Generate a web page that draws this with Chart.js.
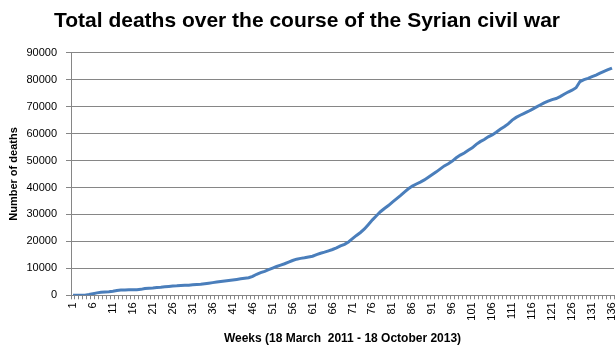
<!DOCTYPE html>
<html>
<head>
<meta charset="utf-8">
<script src="https://cdn.jsdelivr.net/npm/chart.js@4/dist/chart.umd.min.js"></script>
<style>
  html, body { margin: 0; padding: 0; background: #fff; }
  #wrap { width: 615px; height: 358px; position: relative; }
</style>
</head>
<body>
<div id="wrap"><canvas id="deaths-chart"></canvas></div>
<script>
// weeks 1..136 (18 March 2011 - 18 October 2013)
var weeks = [];
for (var w = 1; w <= 136; w++) weeks.push(String(w));

// cumulative deaths per week
var deaths = [
  0, 0, 0, 50, 300, 600, 900, 1100, 1200, 1300,
  1500, 1800, 2000, 2000, 2050, 2050, 2100, 2200, 2500, 2650,
  2750, 2900, 3000, 3150, 3300, 3450, 3500, 3600, 3700, 3750,
  3900, 4000, 4100, 4300, 4500, 4700, 4900, 5100, 5300, 5500,
  5700, 5900, 6100, 6300, 6500, 7000, 7800, 8400, 8900, 9500,
  10100, 10700, 11200, 11700, 12300, 12900, 13400, 13700, 13900, 14200,
  14500, 15100, 15600, 16000, 16500, 17000, 17600, 18300, 18900, 19800,
  21000, 22200, 23300, 24600, 26300, 28000, 29500, 31000, 32200, 33300,
  34600, 35800, 37000, 38300, 39500, 40500, 41300, 42000, 42800, 43800,
  44800, 45800, 46900, 48000, 48800, 49800, 51000, 52000, 52800, 53800,
  54700, 56000, 57000, 57800, 58800, 59500, 60500, 61600, 62500, 63600,
  65000, 66000, 66800, 67500, 68200, 69000, 69800, 70600, 71400, 72000,
  72600, 73000, 73700, 74600, 75400, 76100, 77000, 79300, 80000, 80500,
  81100, 81700, 82400, 83100, 83700, 84300
];

var yTicks = [0, 10000, 20000, 30000, 40000, 50000, 60000, 70000, 80000, 90000];

var chartTitle = 'Total deaths over the course of the Syrian civil war';
var xTitle = 'Weeks (18 March  2011 - 18 October 2013)';
var yTitle = 'Number of deaths';

var gridGrey = '#868686';
var FONT = '"Liberation Sans", Arial, sans-serif';

Chart.defaults.font.family = FONT;
Chart.defaults.color = '#000';

new Chart(document.getElementById('deaths-chart').getContext('2d'), {
  type: 'line',
  data: {
    labels: weeks,
    datasets: [{
      label: 'Deaths',
      data: deaths,
      borderColor: '#4a7ebb',
      borderWidth: 3,
      pointRadius: 0,
      tension: 0,
      fill: false
    }]
  },
  options: {
    responsive: true,
    maintainAspectRatio: false,
    animation: false,
    layout: { padding: { left: 0, right: 1, top: 0, bottom: 0 } },
    plugins: {
      legend: { display: false },
      tooltip: { enabled: false },
      title: {
        display: true,
        text: chartTitle,
        color: '#000',
        font: { size: 21, weight: 'bold', family: FONT },
        padding: { top: 9, bottom: 18.5 }
      }
    },
    scales: {
      x: {
        type: 'category',
        offset: true,
        grid: { display: true, drawOnChartArea: false, offset: true, color: gridGrey, tickLength: 4 },
        border: { color: gridGrey },
        ticks: {
          autoSkip: false,
          maxRotation: 90,
          minRotation: 90,
          padding: 3,
          font: { size: 11 },
          callback: function(val, i) { return i % 5 === 0 ? weeks[i] : ''; }
        },
        title: {
          display: true,
          text: xTitle,
          font: { size: 12, weight: 'bold' },
          padding: { top: 0, bottom: 12 }
        },
        afterFit: function(scale) {
          scale.height = 62.7;
          scale.paddingLeft = 0;
          scale.paddingRight = 0;
        }
      },
      y: {
        min: 0,
        max: 90000,
        afterBuildTicks: function(scale) {
          scale.ticks = yTicks.map(function(v) { return { value: v }; });
        },
        grid: { color: gridGrey, tickLength: 5 },
        border: { color: gridGrey },
        ticks: {
          padding: 9,
          font: { size: 11 },
          callback: function(v) { return String(v); }
        },
        title: {
          display: true,
          text: yTitle,
          font: { size: 11, weight: 'bold' },
          padding: { top: 7, bottom: 0 }
        },
        afterFit: function(scale) {
          scale.width = 71;
        }
      }
    }
  }
});
</script>
</body>
</html>
